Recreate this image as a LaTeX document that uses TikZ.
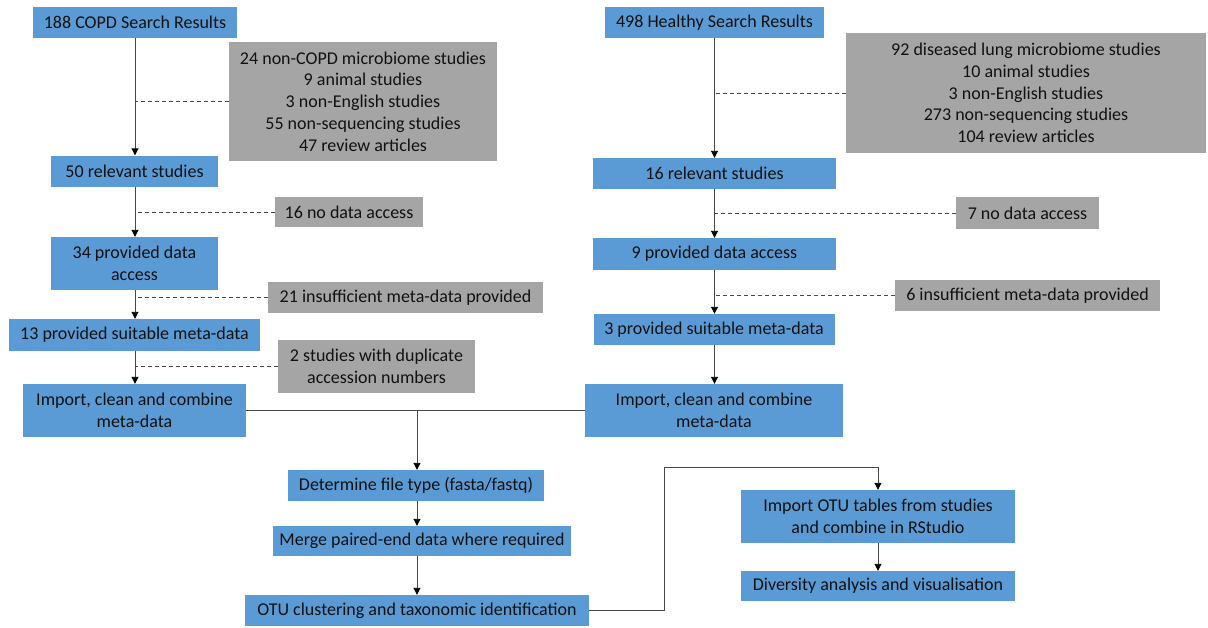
\documentclass[tikz,border=0pt]{standalone}
\usepackage{fontspec}
\setmainfont{Carlito}
\usetikzlibrary{arrows.meta,calc}
\definecolor{boxblue}{HTML}{5B9BD5}
\definecolor{boxgray}{HTML}{A5A5A5}
\definecolor{txt}{HTML}{111111}
\definecolor{linec}{HTML}{484848}
\tikzset{
  basebox/.style={inner sep=0pt, align=center, text=txt, font=\fontsize{18}{21.7}\selectfont},
  bluebox/.style={basebox, fill=boxblue},
  graybox/.style={basebox, fill=boxgray},
  conn/.style={draw=linec, line width=0.9pt, -{Triangle[width=7pt,length=7pt,color=black]}},
  dashconn/.style={draw=linec, line width=0.9pt, dash pattern=on 4pt off 3pt},
  plainconn/.style={draw=linec, line width=0.9pt},
  sz/.style n args={2}{minimum width=#1pt, minimum height=#2pt}
}
\begin{document}
\begin{tikzpicture}[x=1pt,y=-1pt]
\useasboundingbox (0,0) rectangle (1208,627);
% left column
\node[bluebox, sz={204}{31}] (copd) at (135,22.5) {188 COPD Search Results};
\node[bluebox, sz={167}{31}] (relL) at (134.5,171) {50 relevant studies};
\node[bluebox, sz={167}{53}] (accL) at (134.5,263.5) {34 provided data\\access};
\node[bluebox, sz={251}{32}] (metaL) at (134.5,335) {13 provided suitable meta-data};
\node[bluebox, sz={223}{53}] (impL) at (134.5,410.5) {Import, clean and combine\\meta-data};
% left exclusions
\node[graybox, sz={268}{119}] (exA) at (363,101.5) {24 non-COPD microbiome studies\\9 animal studies\\3 non-English studies\\55 non-sequencing studies\\47 review articles};
\node[graybox, sz={148}{30}] (exL1) at (349,212) {16 no data access};
\node[graybox, sz={275}{31}] (exL2) at (405.5,297.5) {21 insufficient meta-data provided};
\node[graybox, sz={197}{53}] (exL3) at (376.5,366.5) {2 studies with duplicate\\accession numbers};
% right column
\node[bluebox, sz={219}{31}] (healthy) at (714.5,22.5) {498 Healthy Search Results};
\node[bluebox, sz={243}{31}] (relR) at (714.5,173.5) {16 relevant studies};
\node[bluebox, sz={243}{32}] (accR) at (714.5,254) {9 provided data access};
\node[bluebox, sz={241}{31}] (metaR) at (714,329.5) {3 provided suitable meta-data};
\node[bluebox, sz={258}{53}] (impR) at (714,410.5) {Import, clean and combine\\meta-data};
% right exclusions
\node[graybox, sz={360}{120}] (exB) at (1026,93) {92 diseased lung microbiome studies\\10 animal studies\\3 non-English studies\\273 non-sequencing studies\\104 review articles};
\node[graybox, sz={143}{32}] (exR1) at (1027.5,213) {7 no data access};
\node[graybox, sz={265}{31}] (exR2) at (1027.5,295.5) {6 insufficient meta-data provided};
% processing
\node[bluebox, sz={256}{31}] (det) at (416,485.5) {Determine file type (fasta/fastq)};
\node[bluebox, sz={298}{30}] (merge) at (422,541) {Merge paired-end data where required};
\node[bluebox, sz={344}{31}] (otu) at (417,610.5) {OTU clustering and taxonomic identification};
\node[bluebox, sz={274}{53}] (iotu) at (878,516.5) {Import OTU tables from studies\\and combine in RStudio};
\node[bluebox, sz={274}{30}] (div) at (878,586) {Diversity analysis and visualisation};
\coordinate (elb) at (664,467);
% left connectors
\draw[conn] (copd.south) -- (copd.south |- relL.north);
\draw[conn] (copd.south |- relL.south) -- (copd.south |- accL.north);
\draw[conn] (copd.south |- accL.south) -- (copd.south |- metaL.north);
\draw[conn] (copd.south |- metaL.south) -- (copd.south |- impL.north);
\draw[dashconn] (exA.west) -- (exA.west -| copd.south);
\draw[dashconn] (exL1.west) -- (exL1.west -| copd.south);
\draw[dashconn] (exL2.west) -- (exL2.west -| copd.south);
\draw[dashconn] (exL3.west) -- (exL3.west -| copd.south);
% right connectors
\draw[conn] (healthy.south) -- (healthy.south |- relR.north);
\draw[conn] (healthy.south |- relR.south) -- (healthy.south |- accR.north);
\draw[conn] (healthy.south |- accR.south) -- (healthy.south |- metaR.north);
\draw[conn] (healthy.south |- metaR.south) -- (healthy.south |- impR.north);
\draw[dashconn] (exB.west) -- (exB.west -| healthy.south);
\draw[dashconn] (exR1.west) -- (exR1.west -| healthy.south);
\draw[dashconn] (exR2.west) -- (exR2.west -| healthy.south);
% join and processing
\draw[plainconn] (impL.east) -- (impR.west);
\draw[conn] (impL.east -| otu.north) -- (otu.north |- det.north);
\draw[conn] (otu.north |- det.south) -- (otu.north |- merge.north);
\draw[conn] (otu.north |- merge.south) -- (otu.north);
\draw[conn] (otu.east) -| (elb) -| (iotu.north);
\draw[conn] (iotu.south) -- (div.north);
\end{tikzpicture}
\end{document}
